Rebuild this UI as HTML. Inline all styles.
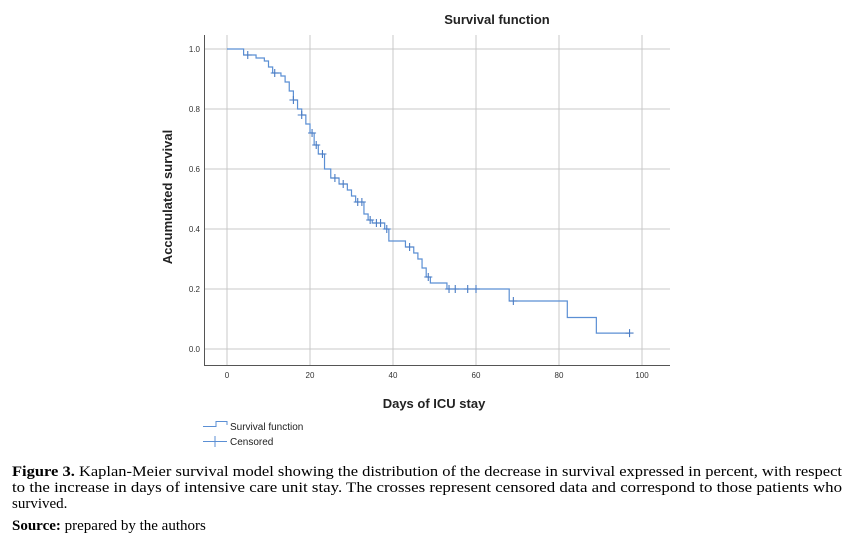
<!DOCTYPE html>
<html><head><meta charset="utf-8"><style>
html,body{margin:0;padding:0;background:#fff;width:859px;height:541px;overflow:hidden}
svg{display:block}
</style></head><body>
<svg id="chart" width="859" height="541" xmlns="http://www.w3.org/2000/svg">
<g id="grid"></g>
<g id="axes"></g>
<g id="series"></g>
<text x="497" y="24" text-anchor="middle" font-family="Liberation Sans, sans-serif" font-weight="bold" font-size="13" fill="#222">Survival function</text>
<text transform="translate(172,197) rotate(-90)" text-anchor="middle" font-family="Liberation Sans, sans-serif" font-weight="bold" font-size="13" fill="#222">Accumulated survival</text>
<text x="434" y="408" text-anchor="middle" font-family="Liberation Sans, sans-serif" font-weight="bold" font-size="13" fill="#222">Days of ICU stay</text>
<g>
<path d="M203,426.5 H216 V421.5 H227 V425" fill="none" stroke="#5b8fd4" stroke-width="1"/>
<text x="230" y="430" font-family="Liberation Sans, sans-serif" font-size="10" fill="#222">Survival function</text>
<path d="M203,441.5 H227 M215,436 V447" fill="none" stroke="#5b8fd4" stroke-width="1"/>
<text x="230" y="445" font-family="Liberation Sans, sans-serif" font-size="10" fill="#222">Censored</text>
</g>
<g font-family="Liberation Serif, serif" font-size="15" fill="#000">
<text x="12" y="476" textLength="830" lengthAdjust="spacingAndGlyphs"><tspan font-weight="bold">Figure 3.</tspan> Kaplan-Meier survival model showing the distribution of the decrease in survival expressed in percent, with respect</text>
<text x="12" y="492" textLength="830" lengthAdjust="spacingAndGlyphs">to the increase in days of intensive care unit stay. The crosses represent censored data and correspond to those patients who</text>
<text x="12" y="508">survived.</text>
<text x="12" y="530"><tspan font-weight="bold">Source:</tspan> prepared by the authors</text>
</g>
</svg>
<script>
const xTicks=[0,20,40,60,80,100];
const yTicks=[0,0.2,0.4,0.6,0.8,1.0];
const yTickLabels=["0.0","0.2","0.4","0.6","0.8","1.0"];
const stepTimes=[0,4,7,9,10,11,13,14,15,16,17,18,19,20,21,22,23.5,25,27,29,30,31,33,34,35,38,39,43,45,46,47,48,49,53,68,82,89];
const stepSurvival=[1.0,0.98,0.97,0.96,0.94,0.92,0.91,0.89,0.86,0.83,0.80,0.78,0.75,0.72,0.68,0.65,0.60,0.57,0.55,0.53,0.51,0.49,0.45,0.43,0.42,0.40,0.36,0.34,0.32,0.30,0.27,0.24,0.22,0.20,0.16,0.105,0.053];
const censorTimes=[5,11.5,16,18,20.5,21.5,23,26,28,31.5,32.5,34.5,36,37,38.5,44,48.5,53.5,55,58,60,69,97];
const endTime=97;
const NS='http://www.w3.org/2000/svg';
const X=d=>227+d*4.15;
const Y=v=>349-v*300;
function mk(tag,attrs,parent){const e=document.createElementNS(NS,tag);for(const k in attrs)e.setAttribute(k,attrs[k]);parent.appendChild(e);return e;}
const grid=document.getElementById('grid'),axes=document.getElementById('axes'),series=document.getElementById('series');
mk('rect',{x:204,y:35,width:466,height:330,fill:'#fff'},grid);
xTicks.forEach(t=>{
  const l=mk('line',{x1:X(t),x2:X(t),y1:35,y2:365,stroke:'#c8c8c8','stroke-width':1},grid);
  
  
  const tx=mk('text',{x:X(t),y:378,'text-anchor':'middle','font-family':'Liberation Sans, sans-serif','font-size':8,fill:'#333'},axes);
  tx.textContent=t;
  
  
});
yTicks.forEach((t,i)=>{
  const l=mk('line',{x1:204,x2:670,y1:Y(t),y2:Y(t),stroke:'#c8c8c8','stroke-width':1},grid);
  
  
  const tx=mk('text',{x:200,y:Y(t)+3,'text-anchor':'end','font-family':'Liberation Sans, sans-serif','font-size':8,fill:'#333'},axes);
  tx.textContent=yTickLabels[i];
  
  
});
const ya=mk('line',{x1:204.5,x2:204.5,y1:35,y2:365,stroke:'#555','stroke-width':1},axes);


const xa=mk('line',{x1:204,x2:670,y1:365.5,y2:365.5,stroke:'#555','stroke-width':1},axes);


function survAt(t){let s=stepSurvival[0];for(let i=0;i<stepTimes.length;i++){if(stepTimes[i]<=t)s=stepSurvival[i];}return s;}
let d='M'+X(stepTimes[0])+','+Y(stepSurvival[0]);
for(let i=1;i<stepTimes.length;i++){d+=' H'+X(stepTimes[i])+' V'+Y(stepSurvival[i]);}
d+=' H'+X(endTime);
const p=mk('path',{d:d,fill:'none',stroke:'#5b8fd4','stroke-width':1.2},series);


censorTimes.forEach(t=>{
  const cx=X(t),cy=Y(survAt(t));
  const c=mk('path',{d:`M${cx-4},${cy} H${cx+4} M${cx},${cy-4} V${cy+4}`,stroke:'#4a7cc4','stroke-width':1.1,fill:'none'},series);
  
  
});
</script>
</body></html>
